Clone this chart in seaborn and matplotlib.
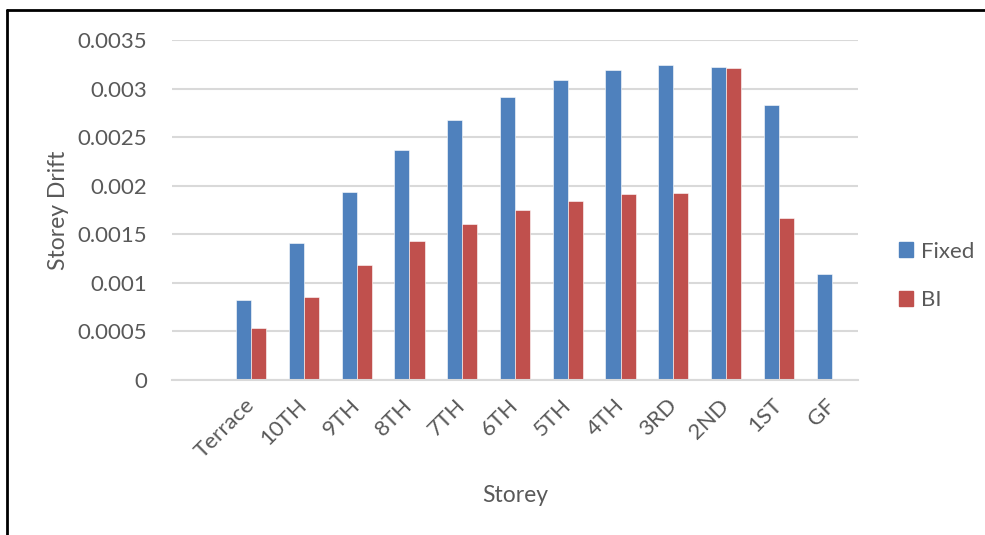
import matplotlib
matplotlib.use("Agg")
import matplotlib.pyplot as plt
import seaborn as sns
import pandas as pd
from matplotlib.lines import Line2D

categories = ["", "Terrace", "10TH", "9TH", "8TH", "7TH", "6TH", "5TH", "4TH", "3RD", "2ND", "1ST", "GF"]
fixed_cats = ["Terrace", "10TH", "9TH", "8TH", "7TH", "6TH", "5TH", "4TH", "3RD", "2ND", "1ST", "GF"]
fixed_vals = [0.000822, 0.001414, 0.001932, 0.002366, 0.002675, 0.002914, 0.003086, 0.003195, 0.003247, 0.003223, 0.002832, 0.001092]
bi_cats = ["Terrace", "10TH", "9TH", "8TH", "7TH", "6TH", "5TH", "4TH", "3RD", "2ND", "1ST"]
bi_vals = [0.000531, 0.000853, 0.001182, 0.001432, 0.00161, 0.001747, 0.001846, 0.001911, 0.001928, 0.003209, 0.001668]
series = ["Fixed", "BI"]
colors = ["#4F81BD", "#C0504D"]
yticks = [0, 0.0005, 0.001, 0.0015, 0.002, 0.0025, 0.003, 0.0035]
ytick_labels = ["0", "0.0005", "0.001", "0.0015", "0.002", "0.0025", "0.003", "0.0035"]

df = pd.concat([
    pd.DataFrame({"Storey": fixed_cats, "Drift": fixed_vals, "Series": "Fixed"}),
    pd.DataFrame({"Storey": bi_cats, "Drift": bi_vals, "Series": "BI"}),
], ignore_index=True)

sns.set_theme(style="white")
plt.rcParams["font.family"] = ["Lato", "DejaVu Sans"]
text_color = "#595959"

fig = plt.figure(figsize=(9.85, 5.35), dpi=100)
ax = fig.add_axes([172 / 985, 1 - 380 / 535, (858 - 172) / 985, (380 - 40) / 535])

sns.barplot(data=df, x="Storey", y="Drift", hue="Series", order=categories,
            hue_order=series, palette=colors, width=0.57, errorbar=None,
            saturation=1, ax=ax, edgecolor="white", linewidth=0.4)

ax.set_xlim(-0.5, len(categories) - 0.5)
ax.set_ylim(0, 0.0035)
ax.set_yticks(yticks)
ax.set_yticklabels(ytick_labels)
ax.yaxis.grid(True, color="#d9d9d9", linewidth=1.5)
ax.set_axisbelow(True)
for s in ["top", "right", "left"]:
    ax.spines[s].set_visible(False)
ax.spines["bottom"].set_color("#d9d9d9")
ax.spines["bottom"].set_linewidth(1.5)

ax.tick_params(axis="y", length=0, pad=18, labelsize=16, labelcolor=text_color)
ax.tick_params(axis="x", length=0, pad=16, labelsize=16, labelcolor=text_color)
for lab in ax.get_xticklabels():
    lab.set_rotation(45)
    lab.set_ha("right")
    lab.set_va("center")
    lab.set_rotation_mode("anchor")

ax.set_xlabel("Storey", fontsize=16.5, color=text_color, labelpad=16)
ax.set_ylabel("Storey Drift", fontsize=16.5, color=text_color, labelpad=6)

ax.legend_.remove()
handles = [plt.Rectangle((0, 0), 1, 1, color=c) for c in colors]
fig.legend(handles, series, loc="center left", bbox_to_anchor=(899 / 985, 1 - 276 / 535),
           frameon=False, fontsize=16, labelcolor=text_color, handlelength=0.65,
           handleheight=0.65, handletextpad=0.35, labelspacing=1.3,
           borderpad=0, borderaxespad=0)

fig.add_artist(Line2D([7 / 985, 7 / 985], [0, 1 - 10 / 535], transform=fig.transFigure,
                      color="black", linewidth=2))
fig.add_artist(Line2D([7 / 985, 1], [1 - 10 / 535, 1 - 10 / 535], transform=fig.transFigure,
                      color="black", linewidth=2))

fig.savefig("out.png", dpi=100)
